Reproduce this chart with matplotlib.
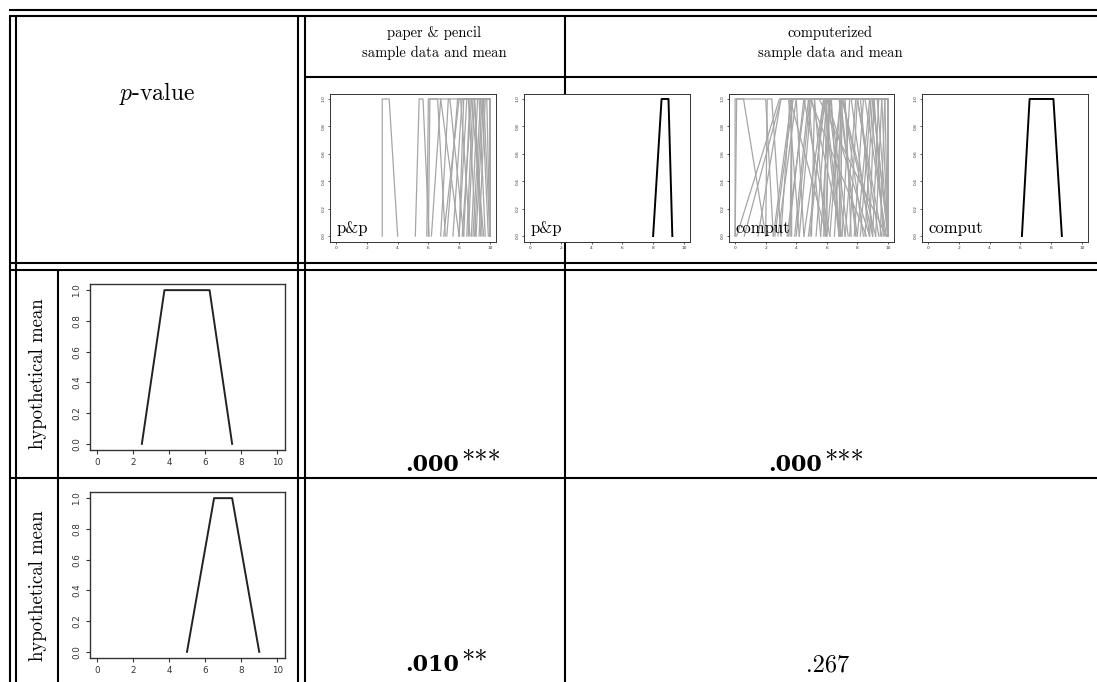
import matplotlib
matplotlib.use("Agg")
from matplotlib import pyplot as plt

plt.rcParams['mathtext.fontset'] = 'cm'

# trapezoidal fuzzy numbers (a, b, c, d) with membership 0-1-1-0
MEMBERSHIP = [0, 1, 1, 0]
X_TICKS = [0, 2, 4, 6, 8, 10]
Y_TICKS = [0.0, 0.2, 0.4, 0.6, 0.8, 1.0]

PP_SAMPLES = [
    (3.0, 3.0, 3.45, 4.0),
    (5.15, 5.4, 5.65, 6.05),
    (5.9, 6.0, 6.8, 8.0),
    (6.0, 6.1, 6.6, 7.1),
    (6.2, 6.8, 7.4, 8.3),
    (7.0, 8.0, 9.0, 9.5),
    (7.2, 7.9, 8.6, 9.1),
    (8.0, 8.3, 9.0, 9.4),
    (8.0, 8.5, 10.0, 10.0),
    (8.3, 8.7, 9.3, 9.7),
    (8.5, 8.9, 9.6, 10.0),
    (8.6, 9.0, 10.0, 10.0),
    (8.8, 9.2, 9.8, 10.0),
    (8.9, 9.4, 10.0, 10.0),
    (9.0, 9.5, 10.0, 10.0),
    (9.1, 9.6, 10.0, 10.0),
    (7.6, 8.2, 8.8, 9.6),
    (8.2, 8.8, 9.5, 9.9),
    (6.8, 7.3, 8.1, 8.7),
    (9.3, 9.7, 10.0, 10.0),
]
PP_MEAN = (8.0, 8.55, 9.0, 9.25)

COMP_SAMPLES = [
    (0.0, 0.0, 0.55, 2.0),
    (0.0, 0.1, 2.0, 2.5),
    (0.1, 2.9, 3.5, 4.2),
    (0.6, 3.0, 3.6, 6.0),
    (2.5, 3.7, 4.5, 6.2),
    (2.6, 3.8, 5.0, 7.0),
    (2.8, 4.0, 4.8, 5.6),
    (3.0, 3.6, 6.0, 8.8),
    (3.4, 4.6, 5.8, 6.8),
    (3.6, 3.7, 5.2, 5.9),
    (3.9, 4.8, 6.1, 7.2),
    (4.0, 4.9, 5.9, 6.9),
    (4.2, 5.0, 7.0, 9.0),
    (4.5, 5.8, 6.9, 7.9),
    (4.8, 5.9, 6.2, 7.4),
    (5.0, 5.2, 8.0, 9.6),
    (5.3, 6.0, 6.8, 8.0),
    (5.6, 6.2, 7.1, 8.4),
    (5.8, 6.0, 7.0, 9.2),
    (6.0, 6.1, 9.0, 10.0),
    (6.2, 6.9, 7.6, 8.8),
    (6.5, 7.0, 8.0, 9.4),
    (6.8, 6.9, 8.2, 9.0),
    (7.0, 7.5, 8.8, 9.8),
    (7.2, 7.9, 9.0, 10.0),
    (7.5, 8.0, 9.3, 10.0),
    (7.8, 8.4, 9.6, 10.0),
    (8.0, 8.8, 10.0, 10.0),
    (8.2, 8.9, 9.8, 10.0),
    (8.5, 9.0, 10.0, 10.0),
    (8.8, 9.1, 10.0, 10.0),
    (9.0, 9.4, 10.0, 10.0),
    (9.2, 9.6, 10.0, 10.0),
    (9.5, 9.8, 10.0, 10.0),
    (3.5, 4.5, 5.5, 9.9),
    (1.5, 3.0, 4.9, 8.6),
    (4.9, 5.8, 8.5, 9.9),
    (6.0, 6.9, 9.1, 9.7),
    (2.0, 2.1, 2.4, 3.0),
    (5.9, 6.2, 6.3, 6.8),
    (3.7, 3.7, 4.0, 4.5),
    (6.9, 7.0, 7.2, 7.6),
]
COMP_MEAN = (6.1, 6.6, 8.15, 8.7)

HYPO_MEANS = [(2.5, 3.75, 6.25, 7.5), (5.0, 6.5, 7.5, 9.0)]

HEADER_LEFT = r"$p$-value"
COLUMN_TITLES = ["paper & pencil\nsample data and mean",
                 "computerized\nsample data and mean"]
PANEL_TAGS = ["p&p", "comput"]
ROW_LABEL = "hypothetical mean"
P_NUMBERS = [[".000", ".000"], [".010", ".267"]]
P_STARS = [["***", "***"], ["**", ""]]

W, H = 1097, 682
SERIF = 'cmr10'


def px_axes(fig, left, top, right, bottom):
    return fig.add_axes([left / W, 1 - bottom / H,
                         (right - left) / W, (bottom - top) / H])


def r_style(ax, small):
    '''R base-graphics look: box, outward ticks, rotated y labels.'''
    ax.set_xlim(-0.4, 10.4)
    ax.set_ylim(-0.04, 1.04)
    ax.set_xticks(X_TICKS)
    ax.set_xticklabels([str(v) for v in X_TICKS])
    ax.set_yticks(Y_TICKS)
    ax.set_yticklabels([f"{v:.1f}" for v in Y_TICKS])
    size = 3.2 if small else 6.3
    tlen = 1.5 if small else 3.0
    pad = 1.5 if small else 3.0
    lw = 0.7 if small else 1.0
    ax.tick_params(axis='both', direction='out', length=tlen, width=lw * 0.8,
                   labelsize=size, pad=pad, colors='#333333')
    ax.tick_params(axis='y', labelrotation=90)
    for lab in ax.get_yticklabels():
        lab.set_va('center')
    for s in ax.spines.values():
        s.set_linewidth(lw)
        s.set_color('#333333')


def trapezoid(ax, t, **kw):
    ax.plot(t, MEMBERSHIP, **kw)


fig = plt.figure(figsize=(W / 100, H / 100), dpi=100)
bg = fig.add_axes([0, 0, 1, 1])
bg.set_xlim(0, W)
bg.set_ylim(H, 0)
bg.axis('off')

rule = dict(color='black', lw=1.5, solid_capstyle='butt')
for y in (10, 16, 263, 270, 478):
    bg.plot([9, W], [y, y], **rule)
bg.plot([304, W], [77, 77], **rule)
for x in (10, 16, 298, 305):
    bg.plot([x, x], [16, H], **rule)
bg.plot([565, 565], [16, H], **rule)
bg.plot([58, 58], [270, H], **rule)

bg.text(157, 100, HEADER_LEFT, fontsize=17, family=SERIF,
        ha='center', va='baseline')
bg.text(434, 43, COLUMN_TITLES[0], fontsize=10.5, family=SERIF,
        ha='center', va='center', linespacing=1.45)
bg.text(830, 43, COLUMN_TITLES[1], fontsize=10.5, family=SERIF,
        ha='center', va='center', linespacing=1.45)

for row, yc in enumerate((374, 586)):
    bg.text(38, yc, ROW_LABEL, fontsize=13.5, family=SERIF, rotation=90,
            ha='center', va='center')

# p-values: bold number with superscript stars when significant
for row, yb in enumerate((471, 671)):
    for col, xs in enumerate((459, 822)):
        num, stars = P_NUMBERS[row][col], P_STARS[row][col]
        if stars:
            bg.text(xs, yb, num, fontsize=16, family='DejaVu Serif',
                    fontweight='bold', ha='right', va='baseline')
            bg.text(xs + 2, yb - 3, stars, fontsize=19, family=SERIF,
                    ha='left', va='baseline')
        else:
            bg.text(xs + 6, yb, num, fontsize=17.5, family=SERIF,
                    ha='center', va='baseline')

# top row: sample data and means
panels = [
    (330, 496, PP_SAMPLES, None, PANEL_TAGS[0]),
    (524, 690, None, PP_MEAN, PANEL_TAGS[0]),
    (729, 894, COMP_SAMPLES, None, PANEL_TAGS[1]),
    (922, 1088, None, COMP_MEAN, PANEL_TAGS[1]),
]
for left, right, samples, mean, tag in panels:
    ax = px_axes(fig, left, 93.5, right, 241.5)
    if samples is not None:
        for t in samples:
            trapezoid(ax, t, color='#a6a6a6', lw=0.9)
    if mean is not None:
        trapezoid(ax, mean, color='black', lw=1.4)
    ax.text(0.02, 0.02, tag, fontsize=12, family=SERIF,
            ha='left', va='baseline')
    r_style(ax, small=True)

# left column: hypothetical means
for (top, bottom), hm in zip(((284, 450), (492, 658)), HYPO_MEANS):
    ax = px_axes(fig, 89.5, top, 284.5, bottom)
    trapezoid(ax, hm, color='#222222', lw=1.4)
    r_style(ax, small=False)

fig.savefig("out.png", dpi=100)
